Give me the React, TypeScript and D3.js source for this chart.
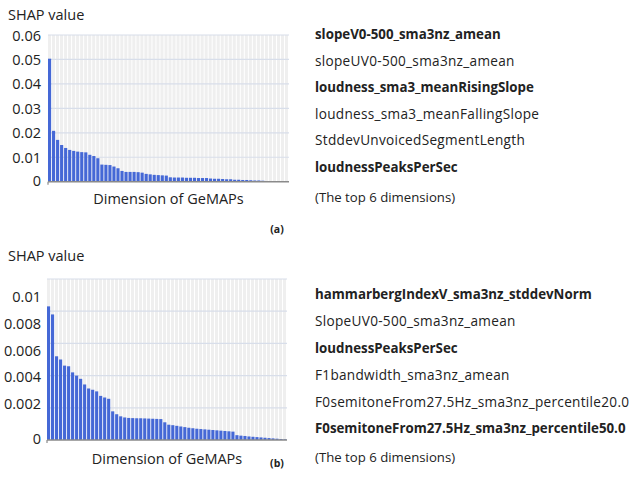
import React from "react";
import * as d3 from "d3";

// ---------- data ----------
const shapA = [
  0.0503, 0.0208, 0.0171, 0.015, 0.0138, 0.013, 0.0126, 0.0123, 0.0121, 0.012,
  0.011, 0.0105, 0.0096, 0.007, 0.0069, 0.0068, 0.0062, 0.0055, 0.0044, 0.004,
  0.004, 0.004, 0.0039, 0.0037, 0.0032, 0.003, 0.0028, 0.0027, 0.0026, 0.0025,
  0.0018, 0.0017, 0.0017, 0.0017, 0.0016, 0.0016, 0.0016, 0.0015, 0.0015, 0.0015,
  0.0013, 0.0012, 0.0012, 0.0011, 0.001, 0.001, 0.0008, 0.0008, 0.0007, 0.0007,
  0.0006, 0.0005, 0.0005, 0.0004, 0, 0, 0, 0, 0, 0,
];
const shapB = [
  0.0083, 0.0078, 0.0052, 0.005, 0.00462, 0.00458, 0.0042, 0.004, 0.0038, 0.00345,
  0.0032, 0.00312, 0.00302, 0.00274, 0.00264, 0.00256, 0.00178, 0.0016, 0.00147, 0.0014,
  0.00137, 0.00136, 0.00135, 0.00135, 0.00134, 0.00133, 0.00132, 0.00131, 0.0013, 0.0011,
  0.00095, 0.00092, 0.00088, 0.00084, 0.0008, 0.00076, 0.00073, 0.0007, 0.00068, 0.00066,
  0.00064, 0.00062, 0.0006, 0.00058, 0.00056, 0.00054, 0.00052, 0.0003, 0.00027, 0.00025,
  0.00022, 0.0002, 0.00018, 0.00016, 0.00014, 0.00012, 0.0001, 0.00008, 0.00006, 0.00004,
];
const dimensionsA = shapA.map((_, i) => `dim${i + 1}`);
const dimensionsB = shapB.map((_, i) => `dim${i + 1}`);
const ticksA = [0, 0.01, 0.02, 0.03, 0.04, 0.05, 0.06];
const tickLabelsA = ["0", "0.01", "0.02", "0.03", "0.04", "0.05", "0.06"];
const ticksB = [0, 0.002, 0.004, 0.006, 0.008, 0.01];
const tickLabelsB = ["0", "0.002", "0.004", "0.006", "0.008", "0.01"];
const topDimsA = [
  "slopeV0-500_sma3nz_amean",
  "slopeUV0-500_sma3nz_amean",
  "loudness_sma3_meanRisingSlope",
  "loudness_sma3_meanFallingSlope",
  "StddevUnvoicedSegmentLength",
  "loudnessPeaksPerSec",
];
const topDimsB = [
  "hammarbergIndexV_sma3nz_stddevNorm",
  "SlopeUV0-500_sma3nz_amean",
  "loudnessPeaksPerSec",
  "F1bandwidth_sma3nz_amean",
  "F0semitoneFrom27.5Hz_sma3nz_percentile20.0",
  "F0semitoneFrom27.5Hz_sma3nz_percentile50.0",
];
const yTitle = "SHAP value";
const xTitle = "Dimension of GeMAPs";
const note = "(The top 6 dimensions)";

// ---------- styles ----------
const FONT = "'Open Sans', 'Noto Sans', sans-serif";
const BAR = "#4568d6";
const BAND = "#efefef";
const GRID = "#d8deea";
const AXIS = "#8a8a8a";
const TEXT = "#222";
const boldRows = new Set([0, 2, 5]);

type PanelProps = {
  values: number[];
  cats: string[];
  ticks: number[];
  tickLabels: string[];
  names: string[];
  tag: string;
  x0: number;
  x1: number;
  yTop: number;
  yBot: number;
  labelTop?: number;
  labelMin?: number;
  titleY: number;
  xTitleY: number;
  tagY: number;
  listY0: number;
  listStep: number;
  noteY: number;
};

function Panel(p: PanelProps) {
  const max = p.ticks[p.ticks.length - 1];
  const y = d3.scaleLinear().domain([0, max]).range([p.yBot, p.yTop]);
  const lab =
    p.labelTop !== undefined && p.labelMin !== undefined
      ? d3.scaleLinear().domain([p.ticks[1], max]).range([p.labelMin, p.labelTop])
      : y;
  const bg = d3.scaleBand<string>().domain(p.cats).range([p.x0, p.x1]).padding(0);
  const x = d3
    .scaleBand<string>()
    .domain(p.cats)
    .range([p.x0, p.x1])
    .paddingInner(0.22)
    .paddingOuter(0.05)
    .align(0);
  return (
    <g>
      <text x={8} y={p.titleY} fontFamily={FONT} fontSize={14.5} fill={TEXT} dominantBaseline="central">
        {yTitle}
      </text>
      {p.cats.map((c) => (
        <rect key={"bg" + c} x={bg(c)} y={p.yTop} width={bg.bandwidth() - 1} height={p.yBot - p.yTop} fill={BAND} />
      ))}
      {p.ticks.map((t) =>
        t === 0 ? null : (
          <line key={"g" + t} x1={p.x0} x2={p.x1} y1={y(t)} y2={y(t)} stroke={GRID} strokeWidth={1.2} />
        )
      )}
      {p.ticks.map((t, i) => (
        <text
          key={"t" + t}
          x={41}
          y={t === 0 ? y(0) - 1.5 : lab(t)}
          textAnchor="end"
          dominantBaseline="central"
          fontFamily={FONT}
          fontSize={14.5}
          fill={TEXT}
        >
          {p.tickLabels[i]}
        </text>
      ))}
      {p.values.map((v, i) => (
        <rect
          key={"b" + i}
          x={x(p.cats[i])}
          y={y(v)}
          width={x.bandwidth()}
          height={p.yBot - y(v)}
          fill={BAR}
        />
      ))}
      <line x1={p.x0} x2={p.x1} y1={p.yBot} y2={p.yBot} stroke={AXIS} strokeWidth={1.5} />
      <line x1={p.x0} x2={p.x0} y1={p.yBot} y2={p.yBot + 3} stroke={AXIS} strokeWidth={1.2} />
      <text
        x={(p.x0 + p.x1) / 2}
        y={p.xTitleY}
        textAnchor="middle"
        dominantBaseline="central"
        fontFamily={FONT}
        fontSize={14.5}
        fill={TEXT}
      >
        {xTitle}
      </text>
      <text x={277} y={p.tagY} textAnchor="middle" dominantBaseline="central" fontFamily={FONT} fontSize={10.5} fontWeight="bold" fill={TEXT}>
        {p.tag}
      </text>
      {p.names.map((n, i) => (
        <text
          key={"n" + i}
          x={315}
          y={p.listY0 + i * p.listStep}
          dominantBaseline="central"
          fontFamily={FONT}
          fontSize={boldRows.has(i) ? 13.3 : 13.6}
          letterSpacing={boldRows.has(i) ? 0 : 0.3}
          fontWeight={boldRows.has(i) ? "bold" : "normal"}
          fill={TEXT}
        >
          {n}
        </text>
      ))}
      <text x={315} y={p.noteY} dominantBaseline="central" fontFamily={FONT} fontSize={13.2} fill={TEXT}>
        {note}
      </text>
    </g>
  );
}

export default function App() {
  return (
    <svg
      width={634}
      height={479}
      viewBox="0 0 634 479"
      style={{ position: "absolute", left: 0, top: 0, background: "#fff" }}
    >
      <Panel
        values={shapA}
        cats={dimensionsA}
        ticks={ticksA}
        tickLabels={tickLabelsA}
        names={topDimsA}
        tag="(a)"
        x0={48}
        x1={289}
        yTop={35}
        yBot={181.7}
        titleY={14}
        xTitleY={198}
        tagY={229}
        listY0={33.5}
        listStep={26.6}
        noteY={196.5}
      />
      <Panel
        values={shapB}
        cats={dimensionsB}
        ticks={ticksB}
        tickLabels={tickLabelsB}
        names={topDimsB}
        tag="(b)"
        x0={47}
        x1={287}
        yTop={279}
        yBot={440}
        labelTop={296.7}
        labelMin={403.3}
        titleY={255}
        xTitleY={458}
        tagY={463}
        listY0={294}
        listStep={26.8}
        noteY={456.7}
      />
    </svg>
  );
}
